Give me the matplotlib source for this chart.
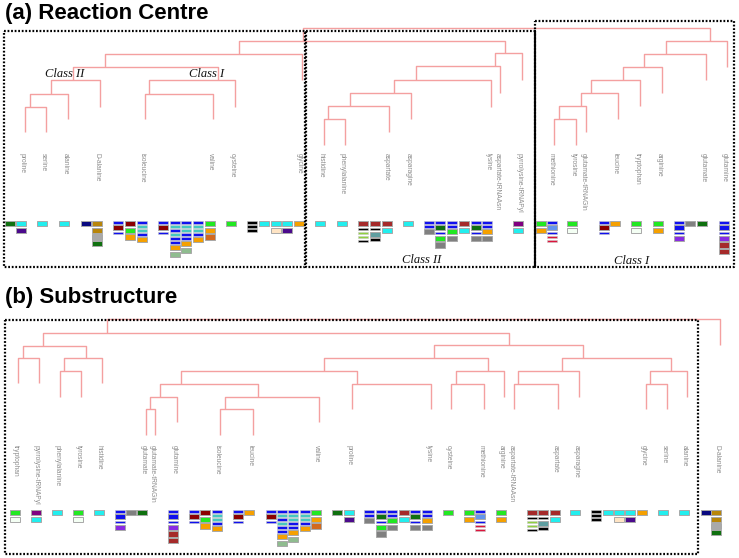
import matplotlib
matplotlib.use('Agg')
from matplotlib import pyplot as plt

# ---- panel (a): reaction centre dendrogram -------------------------------
# leaf name, leaf x, leaf bottom (pixel-like coordinates, y grows downward)
leaves_a = [
    ('proline', 25, 132), ('serine', 46, 132), ('alanine', 68, 119),
    ('D-alanine', 100, 107), ('isoleucine', 145, 119), ('valine', 213, 119),
    ('cysteine', 235, 107), ('glycine', 302, 80),
    ('histidine', 324, 145), ('phenylalanine', 345, 145), ('aspartate', 389, 132),
    ('asparagine', 411, 119), ('lysine', 491, 107), ('aspartate-tRNAAsn', 500, 93),
    ('pyrrolysine-tRNAPyl', 522, 80),
    ('methionine', 554, 145), ('tyrosine', 576, 145), ('glutamate-tRNAGln', 586, 132),
    ('leucine', 618, 119), ('tryptophan', 640, 106), ('arginine', 662, 93),
    ('glutamate', 706, 80), ('glutamine', 727, 67),
]
# node, stem x, merge level, child, child
nodes_a = [
    ('a1', 30, 107, 'proline', 'serine'), ('a2', 51, 94, 'a1', 'alanine'),
    ('a3', 73, 80, 'a2', 'D-alanine'), ('a4', 149, 94, 'isoleucine', 'valine'),
    ('a5', 218, 80, 'a4', 'cysteine'), ('a6', 105, 67, 'a3', 'a5'),
    ('a7', 239, 54, 'a6', 'glycine'),
    ('b1', 328, 119, 'histidine', 'phenylalanine'), ('b2', 350, 106, 'b1', 'aspartate'),
    ('b3', 394, 93, 'b2', 'asparagine'), ('b4', 416, 80, 'b3', 'lysine'),
    ('b5', 495, 66, 'b4', 'aspartate-tRNAAsn'), ('b6', 505, 53, 'b5', 'pyrrolysine-tRNAPyl'),
    ('r1', 303, 41, 'a7', 'b6'),
    ('c1', 559, 119, 'methionine', 'tyrosine'), ('c2', 581, 106, 'c1', 'glutamate-tRNAGln'),
    ('c3', 591, 93, 'c2', 'leucine'), ('c4', 623, 80, 'c3', 'tryptophan'),
    ('c5', 644, 67, 'c4', 'arginine'), ('c6', 666, 54, 'c5', 'glutamate'),
    ('c7', 710, 41, 'c6', 'glutamine'),
    ('root', None, 28, 'r1', 'c7'),
]
# stacks of coloured boxes: column x, codes ('.' suffix = thin bar)
stacks_a = [
    (5, 'g'), (16, 'C I'), (37, 'C'), (59, 'C'), (81, 'N'), (92, 'Y Y A g'),
    (113, 'B. R B.'), (125, 'R L O'), (137, 'B. T. T. B. O'),
    (158, 'B. R B.'), (170, 'B. T. B. T. B. B. O S'), (181, 'B. T. T. B. B. O S'),
    (193, 'B. T. T. B. O'), (205, 'L O H'), (226, 'L'),
    (247, 'K. K. K.'), (259, 'C'), (271, 'C W'), (282, 'C I'), (294, 'O'),
    (315, 'C'), (337, 'C'),
    (358, 'D K. V. V. K.'), (370, 'D K. E K.'), (382, 'D C'), (403, 'C'),
    (424, 'B. B. P'), (435, 'B. g B. L P'), (447, 'B. B. L P'), (459, 'D C'),
    (471, 'B. g B. P'), (482, 'B. B. O P'), (513, 'U C'),
    (536, 'L O'), (547, 'B. F B. X. X.'), (567, 'L Z'), (599, 'B. R B.'), (610, 'O'),
    (631, 'L Z'), (653, 'L O'), (674, 'B. B B. Q'), (685, 'P'), (697, 'g'),
    (719, 'B. B B. Q D D'),
]
classes_a = [('Class II', 65, 74), ('Class I', 207, 74), ('Class II', 422, 260), ('Class I', 632, 261)]

# ---- panel (b): substructure dendrogram ----------------------------------
leaves_b = [
    ('tryptophan', 18, 383), ('pyrrolysine-tRNAPyl', 39, 383), ('phenylalanine', 60, 397),
    ('tyrosine', 81, 397), ('histidine', 102, 383), ('glutamate', 146, 435),
    ('glutamate-tRNAGln', 155, 435), ('glutamine', 177, 422), ('isoleucine', 220, 435),
    ('leucine', 253, 435), ('valine', 319, 422), ('proline', 352, 409),
    ('lysine', 431, 409), ('cysteine', 451, 409), ('methionine', 484, 409),
    ('arginine', 504, 397), ('aspartate-tRNAAsn', 514, 409), ('aspartate', 558, 409),
    ('asparagine', 579, 397), ('glycine', 646, 409), ('serine', 667, 409),
    ('alanine', 687, 397), ('D-alanine', 720, 345),
]
nodes_b = [
    ('n1', 23, 358, 'tryptophan', 'pyrrolysine-tRNAPyl'), ('n2', 64, 371, 'phenylalanine', 'tyrosine'),
    ('n3', 86, 358, 'n2', 'histidine'), ('n4', 43, 346, 'n1', 'n3'),
    ('n5', 150, 409, 'glutamate', 'glutamate-tRNAGln'), ('n6', 160, 397, 'n5', 'glutamine'),
    ('n7', 225, 409, 'isoleucine', 'leucine'), ('n8', 258, 397, 'n7', 'valine'),
    ('n9', 181, 384, 'n6', 'n8'), ('n10', 357, 384, 'proline', 'lysine'),
    ('n11', 324, 371, 'n9', 'n10'), ('n12', 456, 384, 'cysteine', 'methionine'),
    ('n13', 488, 371, 'n12', 'arginine'), ('n14', 434, 358, 'n11', 'n13'),
    ('n15', 518, 384, 'aspartate-tRNAAsn', 'aspartate'), ('n16', 562, 371, 'n15', 'asparagine'),
    ('n17', 650, 384, 'glycine', 'serine'), ('n18', 671, 371, 'n17', 'alanine'),
    ('n19', 583, 358, 'n16', 'n18'), ('n20', 509, 345, 'n14', 'n19'),
    ('n21', 107, 333, 'n4', 'n20'),
    ('root', None, 319, 'n21', 'D-alanine'),
]
stacks_b = [
    (10, 'L Z'), (31, 'U C'), (52, 'C'), (73, 'L Z'), (94, 'C'),
    (115, 'B. B B. Q'), (126, 'P'), (137, 'g'), (168, 'B. B B. Q D D'),
    (189, 'B. R B.'), (200, 'R L O'), (212, 'B. T. T. B. O'), (233, 'B. R B.'), (244, 'O'),
    (266, 'B. R B.'), (277, 'B. T. B. T. B. B. O S'), (288, 'B. T. T. B. B. O S'),
    (300, 'B. T. T. B. O'), (311, 'L O H'), (332, 'g'), (344, 'C I'),
    (364, 'B. B. P'), (376, 'B. g B. L P'), (387, 'B. B. L P'), (399, 'D C'),
    (410, 'B. g B. P'), (422, 'B. B. O P'), (443, 'L'), (464, 'L O'), (475, 'B. F B. X. X.'),
    (496, 'L O'), (527, 'D K. V. V. K.'), (538, 'D K. E K.'), (550, 'D C'), (570, 'C'),
    (591, 'K. K. K.'), (603, 'C'), (614, 'C W'), (625, 'C I'), (637, 'O'),
    (658, 'C'), (679, 'C'), (701, 'N'), (711, 'Y Y A g'),
]

colours = {
    'g': '#0f700f', 'C': '#22eeee', 'I': '#4b0a8c', 'N': '#0a0a80', 'Y': '#b8860b',
    'A': '#a9a9a9', 'B': '#1010ee', 'R': '#8b0000', 'L': '#22e822', 'O': '#f5a000',
    'T': '#45c8c0', 'S': '#8fbc8f', 'H': '#d2691e', 'K': '#000000', 'W': '#ffe4c4',
    'D': '#a52a2a', 'V': '#8fd040', 'E': '#5f9ea0', 'P': '#808080', 'U': '#800080',
    'F': '#6495ed', 'X': '#dc143c', 'Z': '#f4fff4', 'Q': '#8a2be2',
}

LINE = '#f4a0a0'
LABEL = '#8c8c8c'

fig = plt.figure(figsize=(7.39, 5.58), dpi=100)
ax = fig.add_axes([0, 0, 1, 1])
ax.set_xlim(0, 739)
ax.set_ylim(558, 0)
ax.axis('off')


def draw_tree(leaves, nodes, label_top):
    pos = {}
    for name, x, y in leaves:
        pos[name] = (x, y)
        ax.text(x - 3, label_top, name, rotation=270, ha='center', va='top',
                fontsize=4.8, color=LABEL, family='Liberation Sans')
    for name, sx, y, a, b in nodes:
        pos[name] = (sx, y)
    for name, sx, y, a, b in nodes:
        xa, ya = pos[a]
        xb, yb = pos[b]
        ax.plot([xa, xa, xb, xb], [ya, y, y, yb], color=LINE, lw=1.0,
                solid_capstyle='butt')


def draw_stacks(stacks, top):
    for x, codes in stacks:
        y = top
        for code in codes.split():
            thin = code.endswith('.')
            if thin:
                ax.bar(x, 2.6, width=10, bottom=y, align='edge',
                       color=colours[code[0]], edgecolor='#c8c8c8', linewidth=0.4)
                y += 4.0
            else:
                ax.bar(x, 5.2, width=10, bottom=y, align='edge',
                       color=colours[code[0]], edgecolor='#a8a8a8', linewidth=0.7)
                y += 6.7


def dotted_box(x0, y0, x1, y1):
    ax.plot([x0, x1, x1, x0, x0], [y0, y0, y1, y1, y0], color='black',
            lw=1.6, linestyle=(0, (0.8, 0.8)))


draw_tree(leaves_a, nodes_a, 153)
draw_stacks(stacks_a, 221)
draw_tree(leaves_b, nodes_b, 445)
draw_stacks(stacks_b, 510)

dotted_box(4, 31, 305, 267)
dotted_box(306, 31, 535, 267)
dotted_box(535, 21, 734, 267)
ax.plot([535, 535], [31, 267], color='black', lw=1.3)
dotted_box(5, 320, 698, 554)

for txt, x, y in classes_a:
    ax.text(x, y, txt, ha='center', va='center', fontsize=9, style='italic',
            family='Liberation Serif', color='#111111')

ax.text(5, 14, '(a) Reaction Centre', ha='left', va='center', fontsize=16,
        fontweight='bold', family='Liberation Sans')
ax.text(5, 298, '(b) Substructure', ha='left', va='center', fontsize=16,
        fontweight='bold', family='Liberation Sans')

fig.savefig('out.png', dpi=100)
